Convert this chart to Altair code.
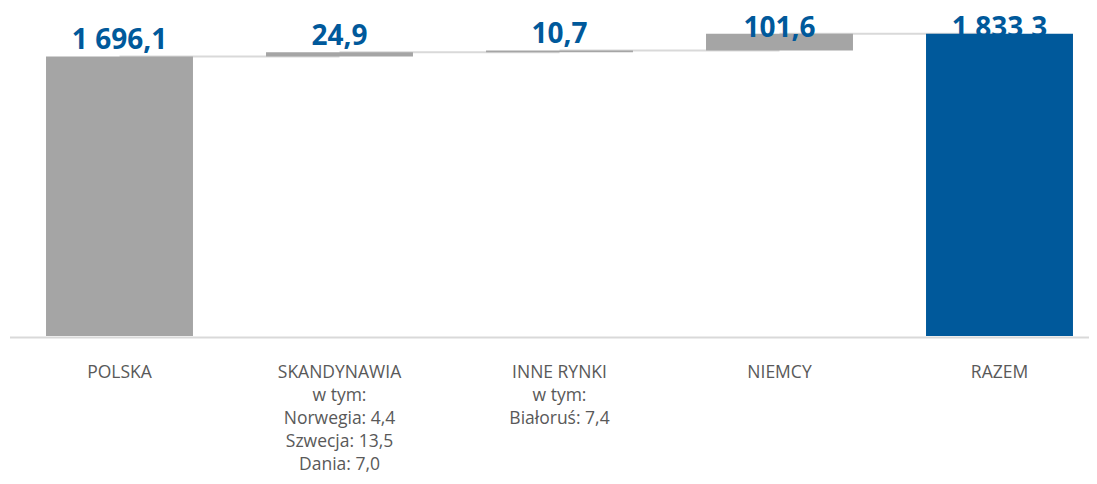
import altair as alt
import pandas as pd

categories = ["POLSKA", "SKANDYNAWIA", "INNE RYNKI", "NIEMCY", "RAZEM"]
details = [
    "",
    "w tym:\nNorwegia: 4,4\nSzwecja: 13,5\nDania: 7,0",
    "w tym:\nBiałoruś: 7,4",
    "",
    "",
]
values = [1696.1, 24.9, 10.7, 101.6, 1833.3]
is_total = [False, False, False, False, True]

GRAY = "#A5A5A5"
BLUE = "#00599B"
FONT = "Open Sans"


def fmt(v):
    s = f"{v:,.1f}"
    return s.replace(",", " ").replace(".", ",")


rows = []
running = 0.0
for cat, det, v, tot in zip(categories, details, values, is_total):
    if tot:
        start, end = 0.0, v
    else:
        start, end = running, running + v
        running = end
    full = cat + ("\n" + det if det else "")
    rows.append({"cat": full, "name": cat, "start": start, "end": end,
                 "label": fmt(v), "total": tot})
df = pd.DataFrame(rows)
order = list(df["cat"])

conn_rows = []
for i in range(len(rows) - 1):
    conn_rows.append({"cat": rows[i]["cat"], "cat2": rows[i + 1]["cat"],
                      "level": rows[i]["end"]})
conn = pd.DataFrame(conn_rows)

xscale = alt.Scale(domain=order, range=[1.5, 1101.5],
                   paddingInner=0.332, paddingOuter=0.166)
yscale = alt.Scale(domain=[0, 1990], nice=False)

xaxis = alt.Axis(title=None, labelAngle=0, ticks=False, tickSize=0, grid=False,
                 domainColor="#D9D9D9", domainWidth=2, offset=1,
                 labelFont=FONT, labelFontSize=17.5, labelColor="#595959",
                 labelBaseline="alphabetic", labelPadding=40,
                 labelLineHeight=23.2, labelExpr="split(datum.label, '\\n')",
                 labelOverlap=False, labelFlush=False)

X = alt.X("cat:N", scale=xscale, sort=order, axis=xaxis)

connectors = alt.Chart(conn).mark_rule(color="#D9D9D9", strokeWidth=2).encode(
    x=X,
    x2="cat2:N",
    y=alt.Y("level:Q", scale=yscale, axis=None),
)

label_base = alt.Chart(df).transform_calculate(
    lpos="min(datum.end + 45, 1815)"
).mark_text(font=FONT, fontSize=28, fontWeight="bold", color=BLUE,
            baseline="alphabetic", align="center").encode(
    x=X,
    y=alt.Y("lpos:Q", scale=yscale, axis=None),
    text="label:N",
)
labels_total = label_base.transform_filter("datum.total")
labels_steps = label_base.transform_filter("!datum.total")

bars = alt.Chart(df).mark_bar().encode(
    x=X,
    y=alt.Y("start:Q", scale=yscale, axis=None),
    y2="end:Q",
    color=alt.condition("datum.total", alt.value(BLUE), alt.value(GRAY)),
)

chart = alt.layer(connectors, labels_total, bars, labels_steps).properties(
    width=1081, height=328, background="white",
    padding={"left": 0, "top": 0, "right": 0, "bottom": 140},
    autosize=alt.AutoSizeParams(type="none"),
).configure_view(stroke=None, strokeWidth=0)

chart.save("out.html", embed_options={"renderer": "svg", "actions": False})
